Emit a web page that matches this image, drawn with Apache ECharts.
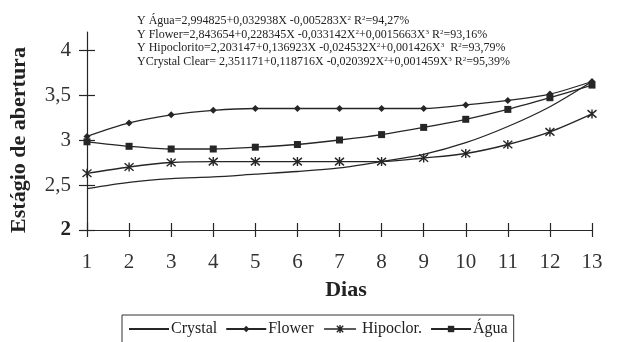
<!DOCTYPE html>
<html>
<head>
<meta charset="utf-8">
<script src="https://cdn.jsdelivr.net/npm/echarts@6/dist/echarts.min.js"></script>
<style>
  html, body { margin: 0; padding: 0; background: #fff; }
  #chart { width: 617px; height: 342px; }
</style>
</head>
<body>
<div id="chart"></div>
<script>
var dias = [1, 2, 3, 4, 5, 6, 7, 8, 9, 10, 11, 12, 13];
var crystal = [2.46, 2.53, 2.57, 2.59, 2.62, 2.65, 2.69, 2.76, 2.84, 2.97, 3.15, 3.37, 3.65];
var flower = [3.04, 3.19, 3.28, 3.33, 3.35, 3.35, 3.35, 3.35, 3.35, 3.39, 3.44, 3.51, 3.65];
var hipoclor = [2.63, 2.70, 2.75, 2.76, 2.76, 2.76, 2.76, 2.76, 2.80, 2.85, 2.95, 3.09, 3.29];
var agua = [2.98, 2.93, 2.90, 2.90, 2.92, 2.95, 3.00, 3.06, 3.14, 3.23, 3.34, 3.47, 3.61];
var yTicks = [2, 2.5, 3, 3.5, 4];
var equacoes = [
  'Y Água=2,994825+0,032938X -0,005283X{s|2} R{s|2}=94,27%',
  'Y Flower=2,843654+0,228345X -0,033142X{s|2}+0,0015663X{s|3} R{s|2}=93,16%',
  'Y Hipoclorito=2,203147+0,136923X -0,024532X{s|2}+0,001426X{s|3}  R{s|2}=93,79%',
  'YCrystal Clear= 2,351171+0,118716X -0,020392X{s|2}+0,001459X{s|3} R{s|2}=95,39%'
];

function pares(v) {
  return v.map(function (y, i) { return [dias[i], y]; });
}

var ink = '#262626';
var serif = '"Liberation Serif", "Times New Roman", serif';
var asterisco = 'path://M0,0L10,10M10,0L0,10M5,-1L5,11';
// ícone da legenda: traço com o asterisco no meio
var asteriscoLegenda = 'path://M0,5L40,5M16,1L24,9M24,1L16,9M20,0L20,10';

var myChart = echarts.init(document.getElementById('chart'));

var graficos = equacoes.map(function (t, i) {
  return {
    type: 'text',
    left: 137,
    top: 15 + i * 13.5,
    style: {
      text: t,
      fill: '#222',
      font: '12px ' + serif,
      rich: { s: { fontSize: 7, verticalAlign: 'top', fontFamily: serif, fill: '#222' } }
    }
  };
});

// títulos dos eixos
graficos.push({
  type: 'text',
  x: 19,
  y: 140,
  rotation: Math.PI / 2,
  style: {
    text: 'Estágio de abertura',
    fill: '#222',
    font: 'bold 22px ' + serif,
    align: 'center',
    verticalAlign: 'middle'
  }
});
graficos.push({
  type: 'text',
  x: 346,
  y: 290,
  style: {
    text: 'Dias',
    fill: '#222',
    font: 'bold 22px ' + serif,
    align: 'center',
    verticalAlign: 'middle'
  }
});

var option = {
  animation: false,
  backgroundColor: '#fff',
  textStyle: { fontFamily: serif },
  graphic: graficos,
  grid: { left: 87, right: 25, top: 32, bottom: 112 },
  legend: {
    left: 122,
    top: 315,
    padding: [6, 6, 12, 6],
    borderColor: '#333',
    borderWidth: 1,
    borderRadius: 0,
    itemWidth: 40,
    itemHeight: 8,
    itemGap: 8,
    textStyle: { fontFamily: serif, fontSize: 16, color: '#222', padding: [0, 0, 0, -3] },
    data: [
      { name: 'Crystal', itemStyle: { opacity: 0 } },
      'Flower',
      {
        name: 'Hipoclor.',
        icon: asteriscoLegenda,
        itemStyle: { color: 'none', borderColor: ink, borderWidth: 1.4 }
      },
      'Água'
    ]
  },
  xAxis: [{
    type: 'value',
    min: 1,
    max: 13,
    interval: 1,
    axisLine: { show: true, lineStyle: { color: ink, width: 1.2 } },
    axisTick: { show: true, length: 7, lineStyle: { color: ink, width: 1.2 } },
    axisLabel: { margin: 22, fontFamily: serif, fontSize: 21, color: '#333' },
    splitLine: { show: false }
  }, {
    type: 'value',
    min: 1,
    max: 13,
    interval: 1,
    position: 'bottom',
    axisLine: { show: false },
    axisTick: { show: true, inside: true, length: 7, lineStyle: { color: ink, width: 1.2 } },
    axisLabel: { show: false },
    splitLine: { show: false }
  }],
  yAxis: [{
    type: 'value',
    min: 2,
    max: 4.2,
    axisLine: { show: true, lineStyle: { color: ink, width: 1.2 } },
    axisTick: { show: true, length: 8, customValues: yTicks, lineStyle: { color: ink, width: 1.2 } },
    axisLabel: {
      margin: 16,
      customValues: yTicks,
      fontFamily: serif,
      fontSize: 21,
      color: '#333',
      formatter: function (v) {
        if (v === 2) return '{b|2}';
        return String(v).replace('.', ',');
      },
      rich: { b: { fontWeight: 'bold', fontSize: 21, fontFamily: serif, color: '#222' } }
    },
    splitLine: { show: false }
  }, {
    type: 'value',
    min: 2,
    max: 4.2,
    position: 'left',
    axisLine: { show: false },
    axisTick: { show: true, inside: true, length: 8, customValues: yTicks, lineStyle: { color: ink, width: 1.2 } },
    axisLabel: { show: false },
    splitLine: { show: false }
  }],
  series: [{
    name: 'Crystal',
    type: 'line',
    smooth: 0.3,
    symbol: 'none',
    data: pares(crystal),
    itemStyle: { color: ink },
    lineStyle: { color: ink, width: 1.3 }
  }, {
    name: 'Flower',
    type: 'line',
    smooth: 0.3,
    symbol: 'diamond',
    symbolSize: 7,
    data: pares(flower),
    itemStyle: { color: ink },
    lineStyle: { color: ink, width: 1.3 }
  }, {
    name: 'Hipoclor.',
    type: 'line',
    smooth: 0.3,
    symbol: asterisco,
    symbolSize: 9,
    data: pares(hipoclor),
    itemStyle: { color: ink, borderColor: ink, borderWidth: 1.4 },
    lineStyle: { color: ink, width: 1.3 }
  }, {
    name: 'Água',
    type: 'line',
    smooth: 0.3,
    symbol: 'rect',
    symbolSize: 7,
    data: pares(agua),
    itemStyle: { color: ink },
    lineStyle: { color: ink, width: 1.3 }
  }]
};

myChart.setOption(option);
</script>
</body>
</html>
